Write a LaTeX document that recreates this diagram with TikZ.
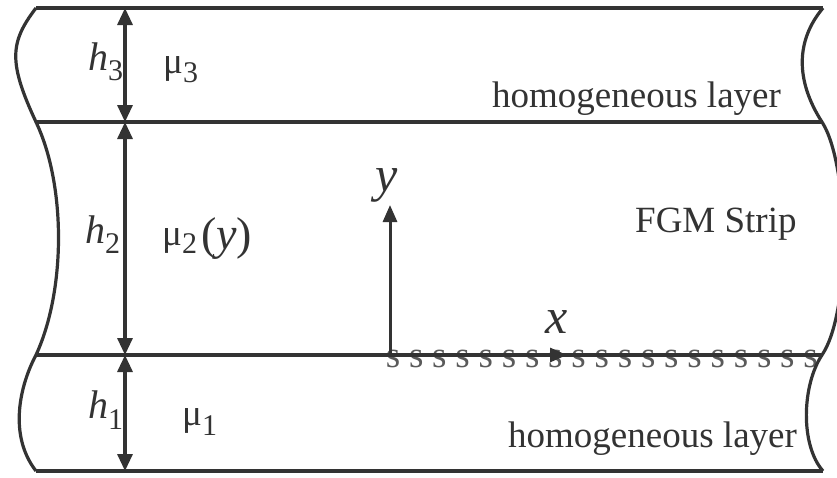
\documentclass[tikz,border=0pt]{standalone}
\usepackage{fontspec}
\setmainfont{Liberation Serif}
\usetikzlibrary{arrows.meta}
\definecolor{ink}{HTML}{333333}
\definecolor{sgray}{HTML}{5a5a5a}
\begin{document}
\begin{tikzpicture}[x=1pt,y=-1pt,
  layerline/.style={ink,line width=4.6pt},
  edgeline/.style={ink,line width=3.2pt},
  dimarrow/.style={ink,line width=3.2pt,{Triangle[length=17pt,width=15pt]}-{Triangle[length=17pt,width=15pt]}},
  axisarrow/.style={ink,line width=3pt,-{Triangle[length=17pt,width=14pt]}},
  txt/.style={ink,inner sep=0pt,anchor=base west,font=\fontsize{37}{40}\selectfont},
  hlbl/.style={ink,inner sep=0pt,anchor=base west,font=\fontsize{40}{44}\selectfont},
  axlbl/.style={ink,inner sep=0pt,anchor=base west,font=\fontsize{50}{54}\selectfont\itshape},
  smark/.style={sgray,inner sep=0pt,anchor=base,font=\fontsize{37}{40}\selectfont}
]
\useasboundingbox (0,0) rectangle (837,477);
\fill[white] (0,0) rectangle (837,477);
\clip (0,0) rectangle (837,477);
% coordinates
\coordinate (TL) at (36,8);   \coordinate (TR) at (823,8);
\coordinate (L2) at (36,122); \coordinate (R2) at (822,122);
\coordinate (L3) at (36,355); \coordinate (R3) at (822,355);
\coordinate (BL) at (36,471); \coordinate (BR) at (823,471);
\coordinate (a1) at (125,8);  \coordinate (a2) at (125,122);
\coordinate (a3) at (125,355);\coordinate (a4) at (125,471);
\coordinate (O) at (390,355); \coordinate (Ytip) at (390,205);
\coordinate (Xtip) at (567,355);
% s marks
\foreach \i in {0,...,18} {
  \node[smark] (s\i) at ({393+23.2*\i},367) {s};
}
% layer lines
\draw[layerline] (TL) -- (TR);
\draw[layerline] (L2) -- (R2);
\draw[layerline] (L3) -- (R3);
\draw[layerline] (BL) -- (BR);
% left boundary
\draw[edgeline] (TL) .. controls (10,42) and (8,62) .. (L2)
  .. controls (66,185) and (66,290) .. (L3)
  .. controls (20,385) and (8,435) .. (BL);
% right boundary
\draw[edgeline] (TR) .. controls (796,40) and (795,80) .. (R2)
  .. controls (849,164) and (852,310) .. (R3)
  .. controls (802,385) and (800,445) .. (BR);
% dimension arrows
\draw[dimarrow] (a1) -- (a2);
\draw[dimarrow] (a2) -- (a3);
\draw[dimarrow] (a3) -- (a4);
% axes
\draw[axisarrow] (O) -- (Ytip);
\draw[axisarrow] (O) -- (Xtip);
\node[axlbl] (ylab) at (375,191) {y};
\node[axlbl] (xlab) at (545,333) {x};
% labels
\node[hlbl] (h3) at (88,70) {\textit{h}\raisebox{-10pt}{\fontsize{30}{30}\selectfont 3}};
\node[hlbl] (h2) at (85,243) {\textit{h}\raisebox{-10pt}{\fontsize{30}{30}\selectfont 2}};
\node[hlbl] (h1) at (88,418) {\textit{h}\raisebox{-11pt}{\fontsize{30}{30}\selectfont 1}};
\node[txt] (mu3) at (163,73) {μ\raisebox{-9pt}{\fontsize{30}{30}\selectfont 3}};
\node[txt] (mu2) at (162,245) {μ\raisebox{-8pt}{\fontsize{30}{30}\selectfont 2}};
\node[ink,inner sep=0pt,anchor=base west,font=\fontsize{46}{50}\selectfont] (mu2y) at (201,249) {(\textit{y})};
\node[txt] (mu1) at (182,425) {μ\raisebox{-10pt}{\fontsize{30}{30}\selectfont 1}};
\node[txt] (hom3) at (492,107) {homogeneous layer};
\node[txt] (fgm) at (635,232) {FGM Strip};
\node[txt] (hom1) at (508,447) {homogeneous layer};
\end{tikzpicture}
\end{document}
